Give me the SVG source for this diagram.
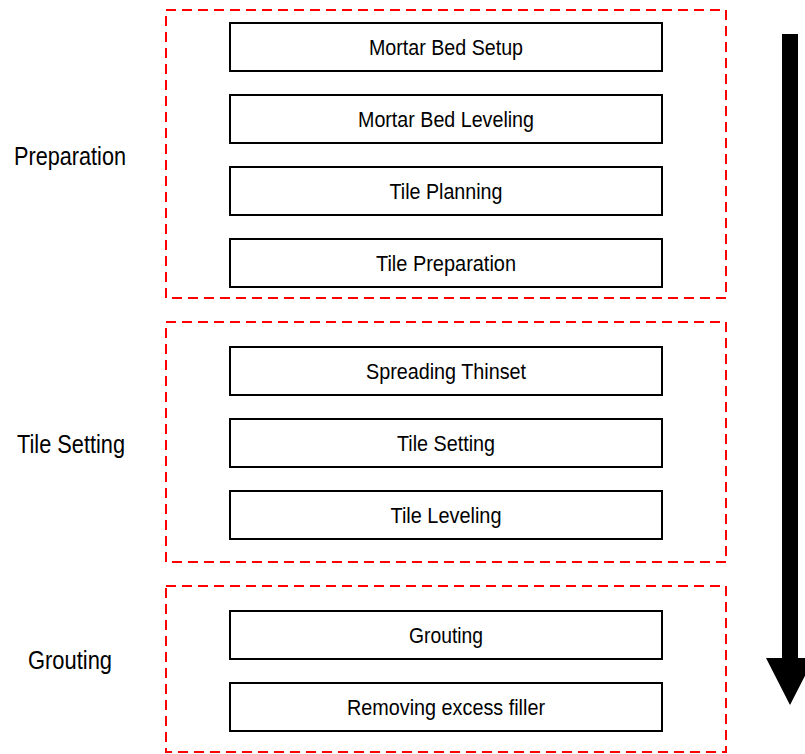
<svg xmlns="http://www.w3.org/2000/svg" width="805" height="754" viewBox="0 0 805 754">
<style>
.grp{fill:none;stroke:#ff0000;stroke-width:2;stroke-dasharray:10 6}
.box{fill:#fff;stroke:#000;stroke-width:2}
.t{font-family:"Liberation Sans","Arial",sans-serif;font-size:22px;text-anchor:middle;fill:#000}
.lbl{font-family:"Liberation Sans","Arial",sans-serif;font-size:25px;text-anchor:middle;fill:#000}
</style>
<rect width="805" height="754" fill="#fff"/>
<g id="group-preparation">
<rect class="grp" x="166" y="10" width="560" height="288"/>
<text class="lbl" x="70" y="165" textLength="112" lengthAdjust="spacingAndGlyphs">Preparation</text>
</g>
<g id="group-tile-setting">
<rect class="grp" x="166" y="322" width="560" height="240"/>
<text class="lbl" x="71" y="453" textLength="108" lengthAdjust="spacingAndGlyphs">Tile Setting</text>
</g>
<g id="group-grouting">
<rect class="grp" x="166" y="586" width="560" height="166"/>
<text class="lbl" x="70" y="669" textLength="84" lengthAdjust="spacingAndGlyphs">Grouting</text>
</g>
<g id="n1"><rect class="box" x="230" y="23" width="432" height="48"/><text class="t" x="446" y="55" textLength="154" lengthAdjust="spacingAndGlyphs">Mortar Bed Setup</text></g>
<g id="n2"><rect class="box" x="230" y="95" width="432" height="48"/><text class="t" x="446" y="127" textLength="176" lengthAdjust="spacingAndGlyphs">Mortar Bed Leveling</text></g>
<g id="n3"><rect class="box" x="230" y="167" width="432" height="48"/><text class="t" x="446" y="199" textLength="113" lengthAdjust="spacingAndGlyphs">Tile Planning</text></g>
<g id="n4"><rect class="box" x="230" y="239" width="432" height="48"/><text class="t" x="446" y="271" textLength="140" lengthAdjust="spacingAndGlyphs">Tile Preparation</text></g>
<g id="n5"><rect class="box" x="230" y="347" width="432" height="48"/><text class="t" x="446" y="379" textLength="160" lengthAdjust="spacingAndGlyphs">Spreading Thinset</text></g>
<g id="n6"><rect class="box" x="230" y="419" width="432" height="48"/><text class="t" x="446" y="451" textLength="98" lengthAdjust="spacingAndGlyphs">Tile Setting</text></g>
<g id="n7"><rect class="box" x="230" y="491" width="432" height="48"/><text class="t" x="446" y="523" textLength="111" lengthAdjust="spacingAndGlyphs">Tile Leveling</text></g>
<g id="n8"><rect class="box" x="230" y="611" width="432" height="48"/><text class="t" x="446" y="643" textLength="74" lengthAdjust="spacingAndGlyphs">Grouting</text></g>
<g id="n9"><rect class="box" x="230" y="683" width="432" height="48"/><text class="t" x="446" y="715" textLength="198" lengthAdjust="spacingAndGlyphs">Removing excess filler</text></g>
<g id="connectors">
<polygon points="782,34 798,34 798,658 814,658 790,705 766,658 782,658" fill="#000"/>
</g>
</svg>
